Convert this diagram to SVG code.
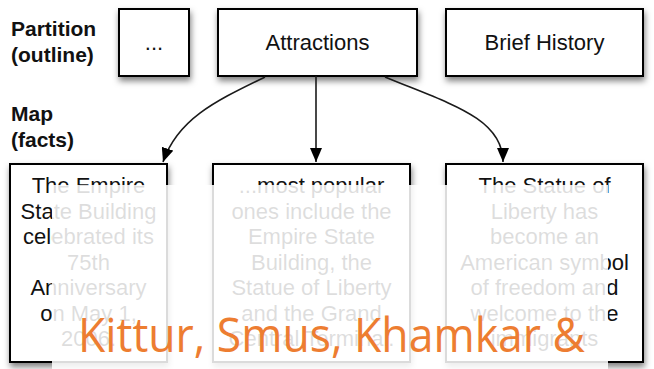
<svg xmlns="http://www.w3.org/2000/svg" width="654" height="369" viewBox="0 0 654 369">
  <style>
    .box { fill: #ffffff; stroke: #000000; stroke-width: 2; filter: url(#shadow); }
    .lbl { font-family: "Liberation Sans", Arial, sans-serif; font-weight: bold; font-size: 21px; fill: #111111; }
    .txt { font-family: "Liberation Sans", Arial, sans-serif; font-size: 22px; fill: #111111; text-anchor: middle; }
    .edge { fill: none; stroke: #1a1a1a; stroke-width: 1.6; marker-end: url(#arrow); }
    .credit { font-family: "Open Sans", "Noto Sans", sans-serif; font-size: 47px; fill: #ED7D31; }
  </style>
  <defs>
    <filter id="shadow" x="-10%" y="-10%" width="125%" height="130%">
      <feDropShadow dx="1" dy="4" stdDeviation="3" flood-color="#000000" flood-opacity="0.5"/>
    </filter>
    <marker id="arrow" markerUnits="userSpaceOnUse" markerWidth="14" markerHeight="12" refX="14" refY="6" orient="auto">
      <path d="M0,0 L14,6 L0,12 z" fill="#000000"/>
    </marker>
  </defs>

  <rect width="654" height="369" fill="#ffffff"/>

  <!-- row labels -->
  <g id="row-partition">
    <text class="lbl" x="11" y="36">Partition</text>
    <text class="lbl" x="11" y="62">(outline)</text>
  </g>
  <g id="row-map">
    <text class="lbl" x="11" y="121">Map</text>
    <text class="lbl" x="11" y="147">(facts)</text>
  </g>

  <!-- outline nodes -->
  <g id="node-ellipsis">
    <rect class="box" x="119" y="9" width="70" height="67"/>
    <text class="txt" x="154" y="50">...</text>
  </g>
  <g id="node-attractions">
    <rect class="box" x="218" y="9" width="199" height="67"/>
    <text class="txt" x="317.5" y="50">Attractions</text>
  </g>
  <g id="node-history">
    <rect class="box" x="446" y="9" width="197" height="67"/>
    <text class="txt" x="544.5" y="50">Brief History</text>
  </g>

  <!-- fact nodes -->
  <g id="node-empire">
    <rect class="box" x="10" y="164" width="157" height="198"/>
    <text class="txt" x="88.5" y="193">The Empire</text>
    <text class="txt" x="88.5" y="218.5">State Building</text>
    <text class="txt" x="88.5" y="244">celebrated its</text>
    <text class="txt" x="88.5" y="269.5">75th</text>
    <text class="txt" x="88.5" y="295">Anniversary</text>
    <text class="txt" x="88.5" y="320.5">on May 1,</text>
    <text class="txt" x="88.5" y="346">2006.</text>
  </g>
  <g id="node-popular">
    <rect class="box" x="213" y="164" width="197" height="198"/>
    <text class="txt" x="311.5" y="193">...most popular</text>
    <text class="txt" x="311.5" y="218.5">ones include the</text>
    <text class="txt" x="311.5" y="244">Empire State</text>
    <text class="txt" x="311.5" y="269.5">Building, the</text>
    <text class="txt" x="311.5" y="295">Statue of Liberty</text>
    <text class="txt" x="311.5" y="320.5">and the Grand</text>
    <text class="txt" x="311.5" y="346">Central Terminal.</text>
  </g>
  <g id="node-liberty">
    <rect class="box" x="446" y="164" width="197" height="198"/>
    <text class="txt" x="544.5" y="193">The Statue of</text>
    <text class="txt" x="544.5" y="218.5">Liberty has</text>
    <text class="txt" x="544.5" y="244">become an</text>
    <text class="txt" x="544.5" y="269.5">American symbol</text>
    <text class="txt" x="544.5" y="295">of freedom and</text>
    <text class="txt" x="544.5" y="320.5">welcome to the</text>
    <text class="txt" x="544.5" y="346">immigrants</text>
  </g>

  <!-- connectors -->
  <g id="connectors">
    <path class="edge" d="M265,77 C218,100 178,118 163,162"/>
    <path class="edge" d="M316,76 L316,162"/>
    <path class="edge" d="M385,77 C450,104 503,118 503,162"/>
  </g>

  <!-- translucent panel and credit line -->
  <rect x="52" y="185" width="556" height="184" fill="#ffffff" opacity="0.86"/>
  <text class="credit" x="78" y="352" textLength="507" lengthAdjust="spacingAndGlyphs">Kittur, Smus, Khamkar &amp;</text>
</svg>
